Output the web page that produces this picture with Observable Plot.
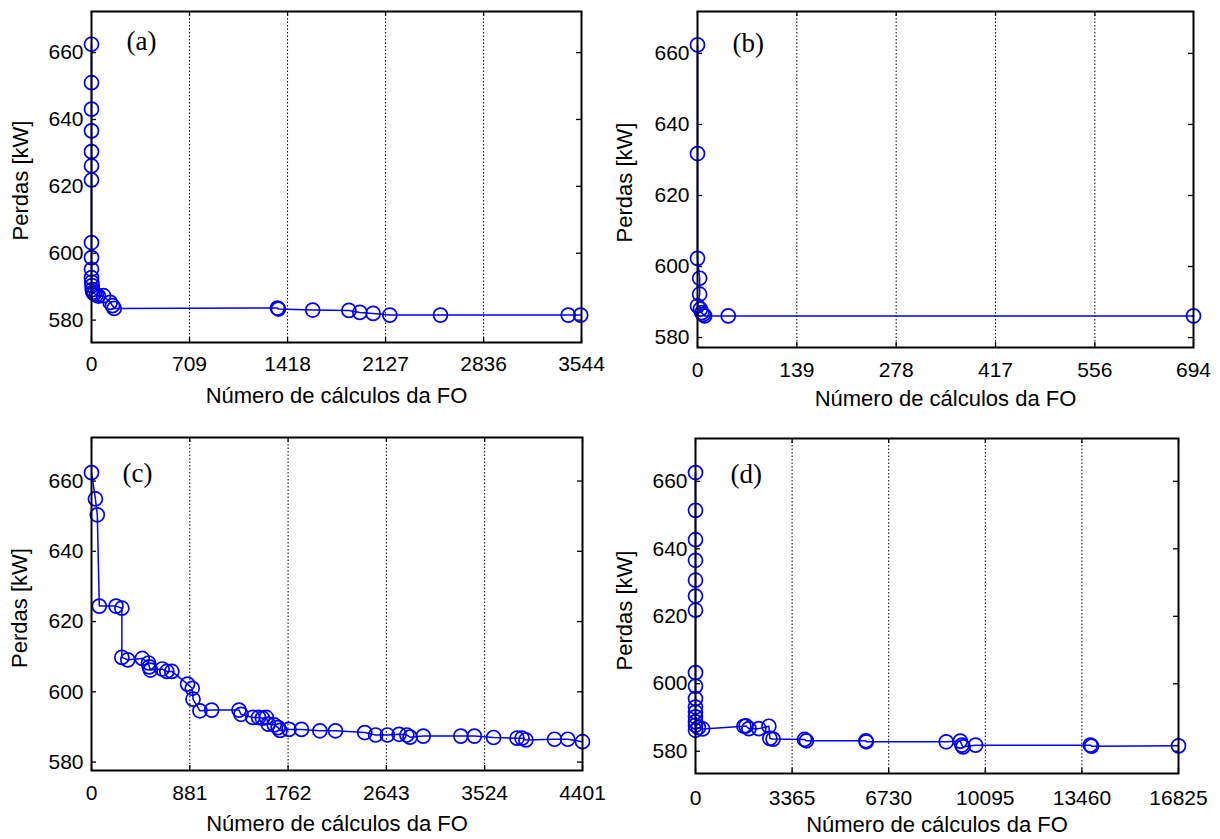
<!DOCTYPE html>
<html>
<head>
<meta charset="utf-8">
<script src="https://cdn.jsdelivr.net/npm/d3@7"></script>
<script src="https://cdn.jsdelivr.net/npm/@observablehq/plot@0.6"></script>
<style>
  html, body { margin: 0; padding: 0; background: #fff; }
  #wrap { position: relative; width: 1220px; height: 839px; overflow: hidden; }
  .p { position: absolute; }
</style>
</head>
<body>
<div id="wrap"></div>
<script>
// ---- data ----
const yTicks = [580, 600, 620, 640, 660];

const aTicks = [0, 709, 1418, 2127, 2836, 3544];
const aX = [0, 0, 0, 0, 0, 0, 0, 0, 0, 0, 0, 2, 4, 6, 10, 20, 35, 50, 87, 135, 152, 164, 1345, 1352, 1600, 1862, 1941, 2037, 2158, 2524, 3448, 3538];
const aY = [662.5, 651.0, 643.1, 636.6, 630.4, 626.1, 621.9, 603.2, 598.7, 595.2, 592.7, 591.4, 590.3, 589.1, 588.3, 587.9, 587.5, 587.2, 587.3, 585.3, 584.3, 583.5, 583.6, 583.3, 583.0, 582.9, 582.3, 582.0, 581.5, 581.5, 581.5, 581.5];

const bTicks = [0, 139, 278, 417, 556, 694];
const bX = [0, 0, 0, 3, 3, 0, 4, 6, 8, 10, 43, 694];
const bY = [662.4, 631.8, 602.3, 596.7, 592.2, 588.9, 588.0, 587.0, 586.5, 586.1, 586.1, 586.1];

const cTicks = [0, 881, 1762, 2643, 3524, 4401];
const cX = [0, 35, 52, 70, 220, 272, 272, 325, 455, 511, 518, 528, 633, 675, 720, 861, 903, 910, 972, 1077, 1322, 1340, 1445, 1497, 1532, 1567, 1585, 1638, 1673, 1690, 1770, 1882, 2047, 2187, 2449, 2547, 2652, 2757, 2827, 2855, 2974, 3310, 3432, 3604, 3814, 3859, 3894, 4150, 4269, 4401];
const cY = [662.4, 654.9, 650.4, 624.4, 624.4, 623.8, 609.8, 609.1, 609.5, 608.2, 607.1, 606.2, 606.5, 605.8, 605.8, 602.2, 601.0, 597.9, 594.6, 594.8, 594.8, 593.6, 592.7, 592.7, 592.5, 592.7, 590.8, 590.6, 589.8, 589.0, 589.3, 589.3, 588.9, 588.9, 588.4, 587.7, 587.7, 587.9, 587.7, 587.1, 587.4, 587.4, 587.4, 587.0, 586.8, 586.8, 586.3, 586.5, 586.5, 585.8];

const dTicks = [0, 3365, 6730, 10095, 13460, 16825];
const dX = [0, 0, 0, 0, 0, 0, 0, 0, 0, 0, 0, 0, 0, 0, 0, 0, 100, 250, 1685, 1760, 1860, 2208, 2556, 2591, 2702, 3797, 3862, 5936, 5950, 8734, 9225, 9280, 9320, 9757, 13755, 13796, 16825];
const dY = [662.6, 651.4, 642.7, 636.6, 630.7, 626.0, 621.8, 603.3, 599.3, 595.6, 593.1, 591.6, 590.2, 588.7, 587.7, 586.2, 587.0, 586.6, 587.4, 587.5, 586.7, 586.7, 587.4, 583.8, 583.6, 583.5, 583.1, 583.1, 582.8, 582.8, 583.0, 581.8, 581.3, 581.8, 581.8, 581.5, 581.6];

const panelTags = ["(a)", "(b)", "(c)", "(d)"];
const yLabel = "Perdas [kW]";
const xLabel = "Número de cálculos da FO";

// ---- drawing ----
const BLUE = "#0000ff";
const SANS = "'Liberation Sans', Arial, sans-serif";
const SERIF = "'Liberation Serif', 'Times New Roman', serif";

function panel(cfg) {
  const data = cfg.xs.map((x, i) => ({x, y: cfg.ys[i]}));
  const fw = cfg.w - cfg.ml - cfg.mr;
  const fh = cfg.h - cfg.mt - cfg.mb;
  const inner = cfg.xTicks.slice(1, -1);
  return Plot.plot({
    width: cfg.w, height: cfg.h,
    marginLeft: cfg.ml, marginRight: cfg.mr, marginTop: cfg.mt, marginBottom: cfg.mb,
    style: {fontFamily: SANS, fontSize: "21px", color: "#000", background: "transparent", overflow: "visible"},
    x: {domain: [cfg.xTicks[0], cfg.xTicks[cfg.xTicks.length - 1]], ticks: cfg.xTicks, tickFormat: d => String(d), tickSize: 0, tickPadding: cfg.xpad, label: null},
    y: {domain: cfg.yDomain, ticks: yTicks, tickFormat: d => String(d), tickSize: 0, tickPadding: 8, label: null},
    marks: [
      Plot.ruleX(inner, {stroke: "#000", strokeWidth: 1, strokeDasharray: "1.5,2"}),
      Plot.tickY(yTicks, {y: d => d, stroke: "#000", strokeWidth: 1.3, insetRight: fw - 5}),
      Plot.tickY(yTicks, {y: d => d, stroke: "#000", strokeWidth: 1.3, insetLeft: fw - 5}),
      Plot.tickX(cfg.xTicks, {x: d => d, stroke: "#000", strokeWidth: 1.3, insetTop: fh - 5}),
      Plot.tickX(cfg.xTicks, {x: d => d, stroke: "#000", strokeWidth: 1.3, insetBottom: fh - 5}),
      Plot.line(data, {x: "x", y: "y", stroke: BLUE, strokeWidth: 1.5}),
      Plot.dot(data, {x: "x", y: "y", r: 7, stroke: BLUE, strokeWidth: 1.7, fill: "none"}),
      Plot.frame({stroke: "#000", strokeWidth: 2}),
      Plot.text([cfg.tag], {frameAnchor: "top-left", dx: cfg.tagDx, dy: cfg.tagDy, textAnchor: "start", lineAnchor: "middle", fontFamily: SERIF, fontSize: 27, fill: "#000"}),
      Plot.text([yLabel], {frameAnchor: "left", dx: cfg.ylDx, dy: cfg.ylDy, rotate: -90, textAnchor: "middle", lineAnchor: "middle", fontSize: 22, fill: "#000"}),
      Plot.text([xLabel], {frameAnchor: "bottom", dy: cfg.xlDy, textAnchor: "middle", lineAnchor: "middle", fontSize: 22, fill: "#000"})
    ]
  });
}

const configs = [
  {left: 0, top: 0, w: 610, h: 420, ml: 91, mr: 29, mt: 11, mb: 78, xs: aX, ys: aY, xTicks: aTicks, yDomain: [573.3, 672.3], tag: panelTags[0], tagDx: 35, tagDy: 30, ylDx: -71, ylDy: 3.5, xlDy: 53, xpad: 14},
  {left: 610, top: 0, w: 610, h: 420, ml: 87, mr: 27, mt: 11, mb: 73, xs: bX, ys: bY, xTicks: bTicks, yDomain: [577.2, 671.8], tag: panelTags[1], tagDx: 35, tagDy: 32, ylDx: -72.5, ylDy: 3, xlDy: 51, xpad: 15},
  {left: 0, top: 420, w: 610, h: 419, ml: 91, mr: 28, mt: 17, mb: 69, xs: cX, ys: cY, xTicks: cTicks, yDomain: [577.6, 672.4], tag: panelTags[2], tagDx: 31, tagDy: 36, ylDx: -71.5, ylDy: 4, xlDy: 53, xpad: 15},
  {left: 610, top: 420, w: 610, h: 419, ml: 85, mr: 42, mt: 18, mb: 66, xs: dX, ys: dY, xTicks: dTicks, yDomain: [573.4, 672.7], tag: panelTags[3], tagDx: 35, tagDy: 36, ylDx: -70.5, ylDy: 4.5, xlDy: 51.5, xpad: 17}
];

const wrap = document.getElementById("wrap");
for (const cfg of configs) {
  const div = document.createElement("div");
  div.className = "p";
  div.style.left = cfg.left + "px";
  div.style.top = cfg.top + "px";
  div.appendChild(panel(cfg));
  wrap.appendChild(div);
}
</script>
</body>
</html>
